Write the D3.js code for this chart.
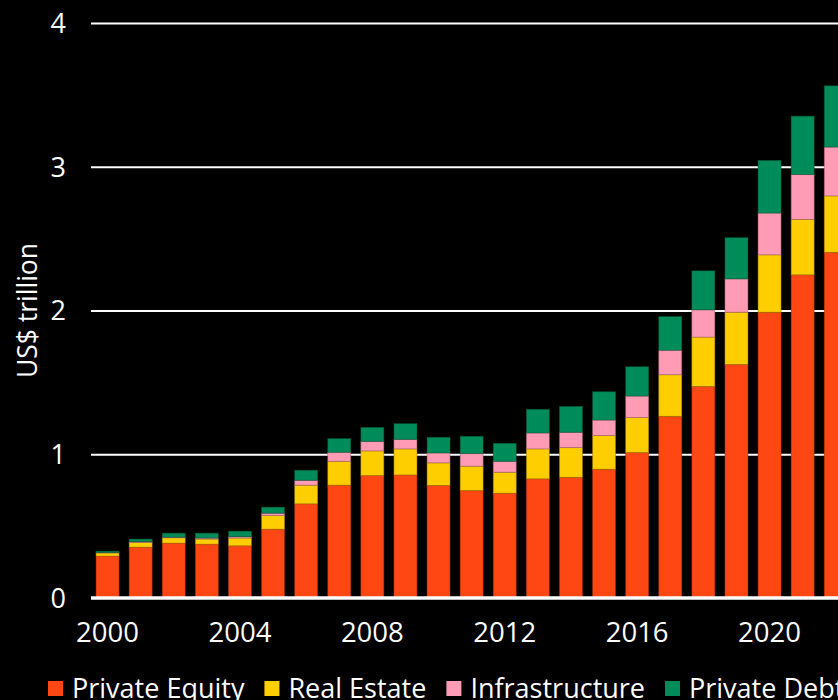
<!DOCTYPE html>
<html>
<head>
<meta charset="utf-8">
<script src="https://cdn.jsdelivr.net/npm/d3@7"></script>
<style>
  html, body { margin: 0; padding: 0; background: #000; }
  svg { display: block; background: #000; }
  text { font-family: "Open Sans", "Liberation Sans", sans-serif; fill: #fff; }
</style>
</head>
<body>
<svg id="chart" width="838" height="700"></svg>
<script>
// Private markets assets under management, US$ trillion
const years = d3.range(2000, 2023);
const privateEquity = [0.292, 0.354, 0.382, 0.375, 0.363, 0.479, 0.655, 0.785, 0.852, 0.856, 0.783, 0.748, 0.729, 0.829, 0.840, 0.896, 1.012, 1.264, 1.472, 1.625, 1.988, 2.248, 2.405];
const realEstate    = [0.021, 0.033, 0.037, 0.035, 0.054, 0.095, 0.130, 0.166, 0.171, 0.181, 0.157, 0.169, 0.146, 0.208, 0.206, 0.234, 0.243, 0.289, 0.343, 0.363, 0.399, 0.386, 0.392];
const infrastructure = [0.003, 0.005, 0.004, 0.007, 0.009, 0.016, 0.034, 0.063, 0.067, 0.067, 0.069, 0.088, 0.076, 0.111, 0.107, 0.108, 0.150, 0.171, 0.190, 0.232, 0.291, 0.313, 0.340];
const privateDebt   = [0.010, 0.018, 0.028, 0.034, 0.039, 0.042, 0.070, 0.095, 0.097, 0.109, 0.109, 0.120, 0.125, 0.165, 0.180, 0.197, 0.204, 0.234, 0.271, 0.287, 0.366, 0.405, 0.426];

const seriesNames = ["Private Equity", "Real Estate", "Infrastructure", "Private Debt"];
const seriesColors = ["#FF4713", "#FFCE00", "#FF9BB4", "#008B5A"];
const yTicks = [0, 1, 2, 3, 4];
const xTickYears = [2000, 2004, 2008, 2012, 2016, 2020];

const svg = d3.select("#chart");
const W = 838, H = 700;
const plotLeft = 91, plotRight = 852.3;

const rows = years.map((yr, i) => ({
  year: yr,
  "Private Equity": privateEquity[i],
  "Real Estate": realEstate[i],
  "Infrastructure": infrastructure[i],
  "Private Debt": privateDebt[i]
}));

const stacked = d3.stack().keys(seriesNames)(rows);

const x = d3.scaleBand()
  .domain(years)
  .range([plotLeft, plotRight])
  .paddingInner(0.305)
  .paddingOuter(0.1525);

const y = d3.scaleLinear().domain([0, 4]).range([598, 23]);
const color = d3.scaleOrdinal().domain(seriesNames).range(seriesColors);

// gridlines and value labels
const yAxis = d3.axisLeft(y).tickValues(yTicks).tickSize(0).tickPadding(0).tickFormat(d3.format("d"));
const gAxis = svg.append("g").attr("transform", `translate(${plotLeft},0)`).call(yAxis);
gAxis.select(".domain").remove();
gAxis.selectAll(".tick text")
  .attr("x", -25)
  .attr("dy", "0.35em")
  .style("font-size", "27px")
  .style("fill", "#fff");
gAxis.selectAll(".tick").filter(d => d > 0)
  .append("line")
  .attr("x1", 0).attr("x2", W - plotLeft)
  .attr("stroke", "#fff").attr("stroke-width", 2);

// stacked bars
svg.append("g")
  .selectAll("g")
  .data(stacked)
  .join("g")
  .attr("fill", d => color(d.key))
  .attr("stroke", d => d3.color(color(d.key)).darker(1.4))
  .attr("stroke-opacity", 0.6)
  .attr("stroke-width", 0.8)
  .selectAll("rect")
  .data(d => d)
  .join("rect")
  .attr("x", d => x(d.data.year))
  .attr("width", x.bandwidth())
  .attr("y", d => y(d[1]))
  .attr("height", d => Math.max(0, y(d[0]) - y(d[1])));

// baseline
svg.append("line")
  .attr("x1", plotLeft).attr("x2", W)
  .attr("y1", y(0)).attr("y2", y(0))
  .attr("stroke", "#fff").attr("stroke-width", 3.5);

// year labels
const xAxis = d3.axisBottom(x).tickValues(xTickYears).tickSize(0).tickPadding(0);
const gx = svg.append("g").attr("transform", `translate(0,${y(0)})`).call(xAxis);
gx.select(".domain").remove();
gx.selectAll(".tick text")
  .attr("y", 44)
  .attr("dy", 0)
  .style("font-size", "27.5px")
  .style("fill", "#fff");

// y axis title
svg.append("text")
  .attr("transform", `translate(37,${(y(0) + y(4)) / 2}) rotate(-90)`)
  .attr("text-anchor", "middle")
  .style("font-size", "26.5px")
  .text("US$ trillion");

// legend
const legend = svg.append("g").attr("transform", "translate(48,0)");
let lx = 0;
seriesNames.forEach((name, i) => {
  const item = legend.append("g").attr("transform", `translate(${lx},0)`);
  item.append("rect")
    .attr("x", 0).attr("y", 681)
    .attr("width", 15).attr("height", 15)
    .attr("fill", seriesColors[i]);
  const t = item.append("text")
    .attr("x", 24).attr("y", 698)
    .style("font-size", "27px")
    .text(name);
  lx += 24 + t.node().getComputedTextLength() + 20;
});
</script>
</body>
</html>
